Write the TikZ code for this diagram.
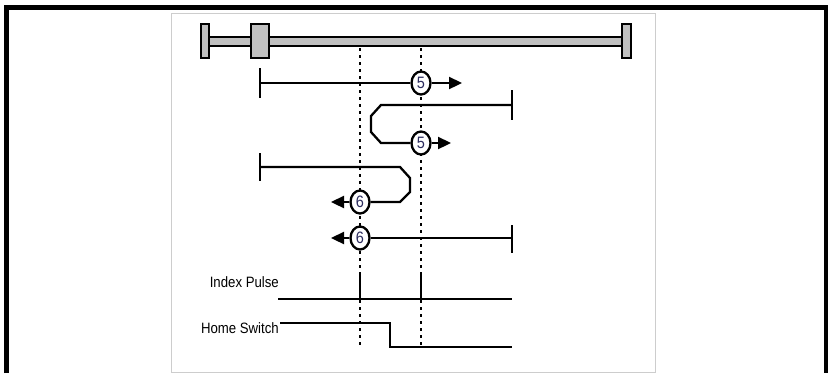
\documentclass[tikz,border=0pt]{standalone}
\usepackage{fontspec}
\setmainfont{Liberation Sans}
\usetikzlibrary{arrows.meta,shapes.geometric}
\definecolor{bargray}{RGB}{192,192,192}
\definecolor{framegray}{RGB}{205,205,205}
\definecolor{digitblue}{RGB}{45,45,95}
\tikzset{
  frame/.style={line width=5pt},
  innerframe/.style={draw=framegray,line width=1pt},
  barpart/.style={draw=black,fill=bargray,line width=1.8pt},
  guide/.style={line width=1.7pt,dash pattern=on 3pt off 4pt},
  move/.style={line width=2.3pt},
  tickline/.style={line width=2.3pt},
  arr/.style={line width=2.3pt,-{Triangle[length=13pt,width=12pt]}},
  num/.style={ellipse,draw,fill=white,line width=2.3pt,minimum width=19pt,minimum height=23pt,inner sep=0pt,
    font=\fontsize{16.5}{16.5}\selectfont,text=digitblue},
  lbl/.style={anchor=east,inner sep=0pt,font=\fontsize{15}{15}\selectfont},
}
\newcommand{\narrow}[1]{\scalebox{0.88}[1]{#1}}
\begin{document}
\begin{tikzpicture}[x=1pt,y=-1pt]
\useasboundingbox (0,0) rectangle (828,373);
% outer frame
\draw[frame] (6.5,373) -- (6.5,7.5) -- (826,7.5) -- (826,373);
% inner frame
\draw[innerframe] (171,13) rectangle (655,372);
% guide lines
\coordinate (g1a) at (360,48); \coordinate (g1b) at (360,345);
\coordinate (g2a) at (421,48); \coordinate (g2b) at (421,345);
\draw[guide] (g1a) -- (g1b);
\draw[guide] (g2a) -- (g2b);
% bar
\draw[barpart] (209,37) rectangle (622,46);
\draw[barpart] (201,24) rectangle (209,58);
\draw[barpart] (251,24) rectangle (269,58);
\draw[barpart] (622,24) rectangle (631,58);
% row 1
\node[num] (c1) at (421,83) {\narrow{5}};
\coordinate (t1a) at (260,68); \coordinate (t1b) at (260,98); \coordinate (t1) at (260,83);
\coordinate (e1) at (462,83);
\draw[tickline] (t1a) -- (t1b);
\draw[move] (t1) -- (c1);
\draw[arr] (c1) -- (e1);
% row 2
\node[num] (c2) at (421,143) {\narrow{5}};
\coordinate (t2a) at (512,90); \coordinate (t2b) at (512,120); \coordinate (t2) at (512,105);
\coordinate (e2) at (451,143);
\draw[tickline] (t2a) -- (t2b);
\draw[move] (t2) -- (381,105) -- (371,116) -- (371,132) -- (381,143) -- (c2);
\draw[arr] (c2) -- (e2);
% row 3
\node[num] (c3) at (360,202) {\narrow{6}};
\coordinate (t3a) at (260,153); \coordinate (t3b) at (260,181); \coordinate (t3) at (260,167);
\coordinate (e3) at (331,202);
\draw[tickline] (t3a) -- (t3b);
\draw[move] (t3) -- (400,167) -- (410,178) -- (410,192) -- (400,202) -- (c3);
\draw[arr] (c3) -- (e3);
% row 4
\node[num] (c4) at (360,238) {\narrow{6}};
\coordinate (t4a) at (512,225); \coordinate (t4b) at (512,253); \coordinate (t4) at (512,238);
\coordinate (e4) at (331,238);
\draw[tickline] (t4a) -- (t4b);
\draw[move] (t4) -- (c4);
\draw[arr] (c4) -- (e4);
% index pulse
\node[lbl] (ip) at (279,282) {\narrow{Index Pulse}};
\coordinate (ipa) at (278,299); \coordinate (ipb) at (512,299);
\draw[move] (ipa) -- (ipb);
\draw[move] (360,272) -- (360,299);
\draw[move] (421,272) -- (421,299);
% home switch
\node[lbl] (hs) at (279,328) {\narrow{Home Switch}};
\coordinate (hsa) at (280,323); \coordinate (hsb) at (512,347);
\draw[move] (hsa) -- (390,323) -- (390,347) -- (hsb);
\end{tikzpicture}
\end{document}
